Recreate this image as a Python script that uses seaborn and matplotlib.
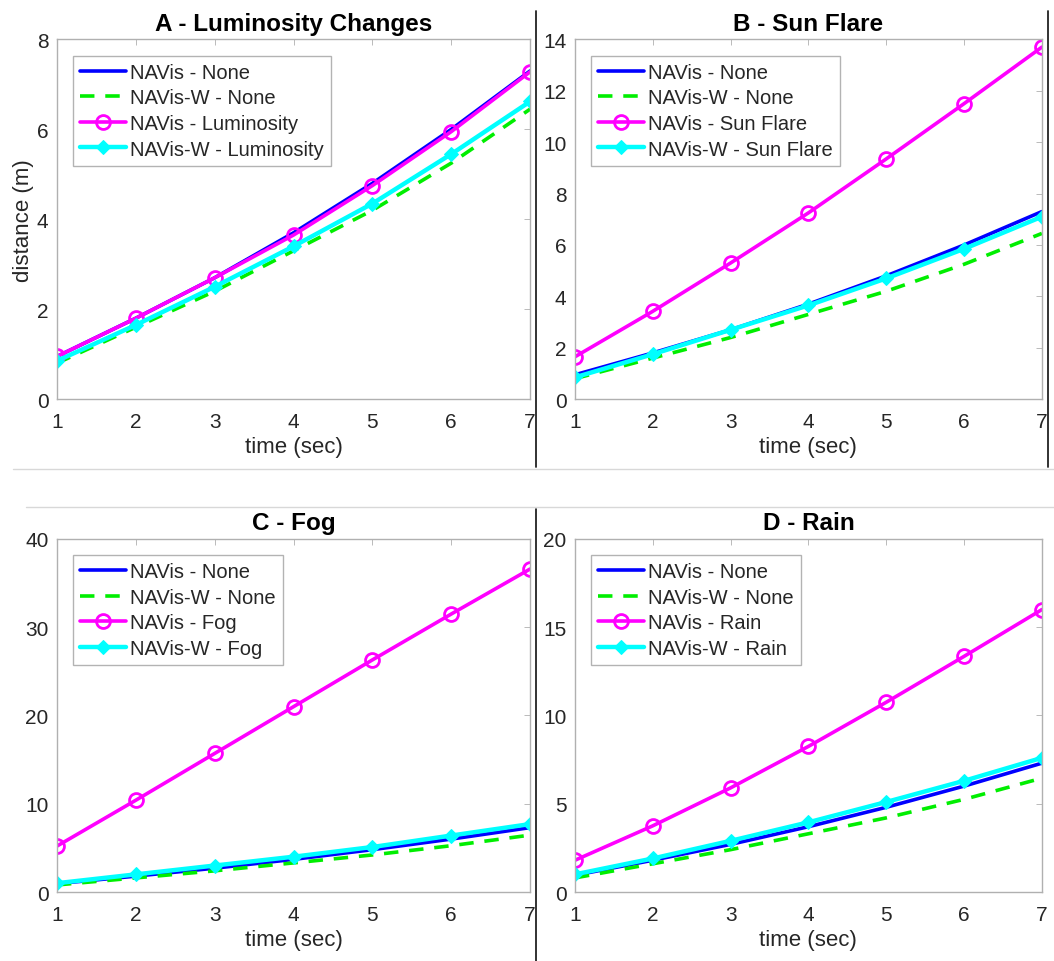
import matplotlib
matplotlib.use("Agg")
import matplotlib.pyplot as plt
from matplotlib.lines import Line2D
import seaborn as sns

sns.set_style("white")
plt.rcParams['font.family'] = ['Liberation Sans', 'DejaVu Sans']

# --- data ---
time_sec = [1, 2, 3, 4, 5, 6, 7]
navis_none = [0.95, 1.8, 2.7, 3.7, 4.8, 6.0, 7.3]
navisw_none = [0.8, 1.6, 2.4, 3.3, 4.2, 5.25, 6.45]

navis_lum = [0.95, 1.8, 2.7, 3.65, 4.75, 5.95, 7.28]
navisw_lum = [0.85, 1.65, 2.5, 3.4, 4.35, 5.45, 6.62]

navis_flare = [1.65, 3.42, 5.3, 7.25, 9.35, 11.5, 13.7]
navisw_flare = [0.85, 1.75, 2.7, 3.65, 4.7, 5.85, 7.1]

navis_fog = [5.2, 10.4, 15.7, 21.0, 26.3, 31.5, 36.6]
navisw_fog = [1.0, 2.0, 3.0, 4.0, 5.1, 6.4, 7.7]

navis_rain = [1.8, 3.75, 5.9, 8.25, 10.75, 13.35, 16.0]
navisw_rain = [1.0, 1.9, 2.9, 3.95, 5.1, 6.3, 7.6]

panels = [
    ("A - Luminosity Changes", "Luminosity", navis_lum, navisw_lum, [0, 2, 4, 6, 8]),
    ("B - Sun Flare", "Sun Flare", navis_flare, navisw_flare, [0, 2, 4, 6, 8, 10, 12, 14]),
    ("C - Fog", "Fog", navis_fog, navisw_fog, [0, 10, 20, 30, 40]),
    ("D - Rain", "Rain", navis_rain, navisw_rain, [0, 5, 10, 15, 20]),
]

# axes rectangles in figure fractions (left, bottom, width, height)
rects = [
    [0.054, 0.584, 0.449, 0.374],
    [0.5455, 0.584, 0.443, 0.374],
    [0.054, 0.0717, 0.449, 0.367],
    [0.5455, 0.0717, 0.443, 0.367],
]

fig = plt.figure(figsize=(10.54, 9.62), dpi=100)

for i, (title, cond, navis_vals, navisw_vals, yticks) in enumerate(panels):
    ax = fig.add_axes(rects[i])
    sns.lineplot(x=time_sec, y=navis_none, ax=ax, color='#0000ff', linewidth=2.6,
                 label='NAVis - None')
    sns.lineplot(x=time_sec, y=navisw_none, ax=ax, color='#00ee00', linewidth=2.6,
                 dashes=(4, 3), label='NAVis-W - None')
    sns.lineplot(x=time_sec, y=navis_vals, ax=ax, color='#ff00ff', linewidth=2.6,
                 marker='o', markersize=10, markerfacecolor='none',
                 markeredgecolor='#ff00ff', markeredgewidth=2, label='NAVis - ' + cond)
    sns.lineplot(x=time_sec, y=navisw_vals, ax=ax, color='#00ffff', linewidth=3.2,
                 marker='D', markersize=7, markeredgecolor='#00ffff',
                 markerfacecolor='#00ffff', label='NAVis-W - ' + cond)

    ax.set_xlim(1, 7)
    ax.set_ylim(yticks[0], yticks[-1])
    ax.set_xticks(time_sec)
    ax.set_yticks(yticks)
    ax.tick_params(direction='in', length=4, width=0.6, colors='#b0b0b0',
                   labelcolor='#262626', labelsize=15, top=True, right=True)
    ax.tick_params(axis='x', pad=9)
    ax.tick_params(axis='y', pad=6)
    for sp in ax.spines.values():
        sp.set_color('#b0b0b0')
        sp.set_linewidth(1.0)
    ax.set_title(title, fontsize=17.5, fontweight='bold', color='black', pad=7)
    ax.set_xlabel('time (sec)', fontsize=16, color='#262626', labelpad=4)
    if i == 0:
        ax.set_ylabel('distance (m)', fontsize=16, color='#262626', labelpad=2)
    else:
        ax.set_ylabel('')
    leg = ax.legend(loc='upper left', fontsize=14.5, frameon=True, fancybox=False,
                    handlelength=2.3, handletextpad=0.2, borderpad=0.35,
                    labelspacing=0.33, borderaxespad=0.8)
    leg.get_frame().set_edgecolor('#a0a0a0')
    leg.get_frame().set_linewidth(1.0)
    for t in leg.get_texts():
        t.set_color('#262626')

# separator lines between the four pictures
H = 962.0
W = 1054.0
def vline(x, y0, y1, color='#222222', lw=1.3):
    fig.add_artist(Line2D([x / W, x / W], [1 - y0 / H, 1 - y1 / H], color=color, lw=lw))

def hline(y, x0, x1, color='#d8d8d8', lw=1.0):
    fig.add_artist(Line2D([x0 / W, x1 / W], [1 - y / H, 1 - y / H], color=color, lw=lw))

vline(536, 12, 468)
vline(1048, 12, 468)
vline(536, 510, 962)
hline(470, 13, 1054)
hline(508, 26, 1054)

fig.savefig('out.png', dpi=100)
plt.close(fig)
